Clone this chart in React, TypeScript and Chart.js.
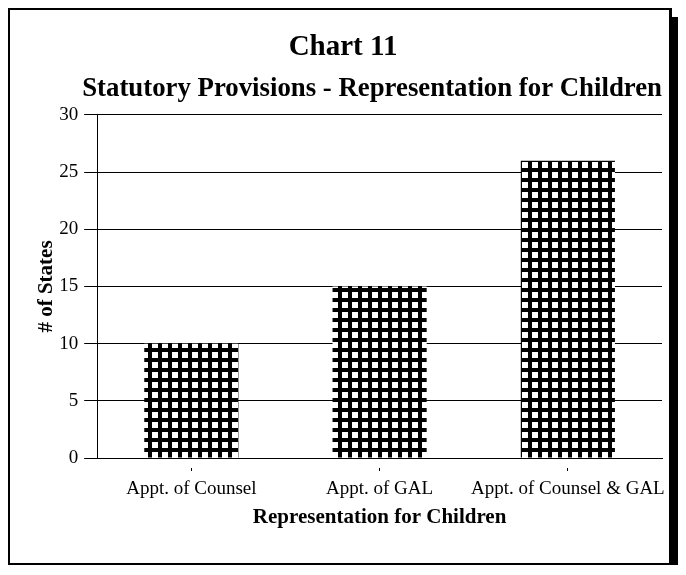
import React, { useEffect, useRef } from "react";
import { Chart, registerables } from "chart.js";

Chart.register(...registerables);

const chartTitle = "Chart 11";
const chartSubtitle = "Statutory Provisions - Representation for Children";
const categories = ["Appt. of Counsel", "Appt. of GAL", "Appt. of Counsel & GAL"];
const stateCounts = [10, 15, 26];
const xAxisTitle = "Representation for Children";
const yAxisTitle = "# of States";
const yMin = 0;
const yMax = 30;
const yStep = 5;

const FONT = "'Liberation Serif', 'Times New Roman', serif";

function makePattern(ctx: CanvasRenderingContext2D): CanvasPattern | string {
  const c = document.createElement("canvas");
  c.width = 10;
  c.height = 10;
  const g = c.getContext("2d");
  if (!g) return "#000";
  g.fillStyle = "#000";
  g.fillRect(0, 0, 10, 10);
  g.fillStyle = "#fff";
  g.fillRect(2, 2, 6, 6);
  return ctx.createPattern(c, "repeat") || "#000";
}

export default function App() {
  const ref = useRef<HTMLCanvasElement | null>(null);

  useEffect(() => {
    const canvas = ref.current;
    if (!canvas) return;
    const ctx = canvas.getContext("2d");
    if (!ctx) return;
    const pattern = makePattern(ctx);
    Chart.defaults.font.family = FONT;
    Chart.defaults.color = "#000";

    const chart = new Chart(canvas, {
      type: "bar",
      data: {
        labels: categories,
        datasets: [
          {
            data: stateCounts,
            backgroundColor: pattern as any,
            borderWidth: 0,
            categoryPercentage: 1,
            barPercentage: 0.5,
          },
        ],
      },
      options: {
        responsive: false,
        animation: false,
        layout: { padding: { top: 0, left: 14, right: 7, bottom: 33 } },
        plugins: {
          legend: { display: false },
          tooltip: { enabled: false },
          title: {
            display: true,
            text: chartTitle,
            color: "#000",
            font: { family: FONT, size: 29, weight: "bold" },
            padding: { top: 20, bottom: 4 },
          },
          subtitle: {
            display: true,
            text: chartSubtitle,
            color: "#000",
            align: "end",
            font: { family: FONT, size: 26.8, weight: "bold" },
            padding: { top: 4, bottom: 10 },
          },
        },
        scales: {
          x: {
            type: "category",
            offset: true,
            grid: {
              display: true,
              drawOnChartArea: false,
              drawTicks: true,
              tickLength: 13,
              offset: false,
              tickColor: "#000",
              tickBorderDash: [0, 9, 4, 100],
            },
            border: { display: true, color: "#000", width: 1 },
            ticks: {
              color: "#000",
              padding: 7,
              autoSkip: false,
              maxRotation: 0,
              minRotation: 0,
              font: { family: FONT, size: 19 },
            },
            title: {
              display: true,
              text: xAxisTitle,
              color: "#000",
              font: { family: FONT, size: 21, weight: "bold" },
              padding: { top: -3, bottom: 0 },
            },
            afterFit: (scale: any) => {
              scale.paddingRight = 0;
              scale.paddingLeft = 0;
            },
          },
          y: {
            min: yMin,
            max: yMax,
            grid: {
              color: "#000",
              lineWidth: 1,
              drawTicks: true,
              tickLength: 13,
              tickColor: "#000",
            },
            border: { display: true, color: "#000", width: 1 },
            ticks: {
              stepSize: yStep,
              color: "#000",
              padding: 6,
              font: { family: FONT, size: 19 },
            },
            title: {
              display: true,
              text: yAxisTitle,
              color: "#000",
              font: { family: FONT, size: 21, weight: "bold" },
              padding: { top: 10, bottom: -6 },
            },
          },
        },
      },
    });
    return () => chart.destroy();
  }, []);

  return (
    <div
      style={{
        width: 659,
        height: 553,
        borderStyle: "solid",
        borderColor: "#000",
        borderWidth: "2px 3px 2px 2px",
        boxShadow: "11px 9px 0 #000",
        background: "#fff",
      }}
    >
      <canvas ref={ref} width={659} height={553} style={{ display: "block" }} />
    </div>
  );
}
